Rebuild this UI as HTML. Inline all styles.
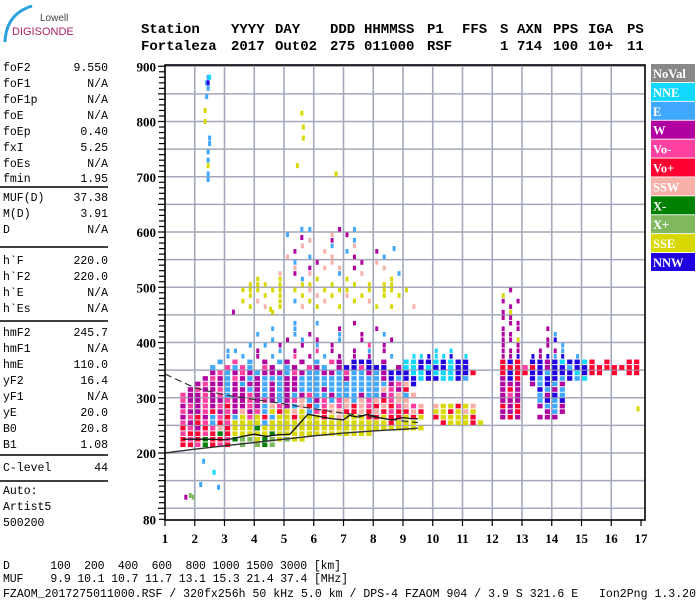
<!DOCTYPE html>
<html><head><meta charset="utf-8"><style>
body{margin:0;background:#fff;width:700px;height:600px;overflow:hidden}
svg{display:block}
.m{font-family:"Liberation Mono",monospace}
.s{font-family:"Liberation Serif",serif;font-weight:bold}
</style></head><body>
<svg id="c" width="700" height="600">
<g>
<path d="M5 42 Q6 14 32 6" stroke="#2aa0e0" stroke-width="3" fill="none"/>
<text x="40" y="21" font-family="Liberation Sans,sans-serif" font-size="10" fill="#444">Lowell</text>
<text x="12" y="35" font-family="Liberation Sans,sans-serif" font-size="11" fill="#b02060">DIGISONDE</text>
</g>
<g id="hdr" class="m" font-size="14" font-weight="bold"></g>
<g id="left" class="m" font-size="11.5"></g>
<g id="grid"></g>
<g id="marks"></g>
<g id="traces"></g>
<g id="axes"></g>
<g id="legend"></g>
<g class="m" font-size="11.5">
<text x="3" y="569" textLength="338" xml:space="preserve">D      100  200  400  600  800 1000 1500 3000 [km]</text>
<text x="3" y="582" textLength="345" xml:space="preserve">MUF    9.9 10.1 10.7 11.7 13.1 15.3 21.4 37.4 [MHz]</text>
<text x="3" y="597" textLength="693" xml:space="preserve">FZAOM_2017275011000.RSF / 320fx256h 50 kHz 5.0 km / DPS-4 FZAOM 904 / 3.9 S 321.6 E   Ion2Png 1.3.20</text>
</g>
</svg>
<script>
const NS="http://www.w3.org/2000/svg";
function mk(p,t,a){const e=document.createElementNS(NS,t);for(const k in a)e.setAttribute(k,a[k]);p.appendChild(e);return e;}
const X=f=>165+(f-1)*29.75;
const Y=h=>453-(h-200)*0.5525;

const hdrTop=[["Station",141],["YYYY",231],["DAY",275],["DDD",330],["HHMMSS",364],["P1",427],["FFS",462],["S",500],["AXN",517],["PPS",553],["IGA",588],["PS",627]];
const hdrBot=[["Fortaleza",141],["2017",231],["Out02",275],["275",330],["011000",364],["RSF",427],["1",500],["714",517],["100",553],["10+",588],["11",627]];
const H=document.getElementById('hdr');
hdrTop.forEach(d=>{const t=mk(H,'text',{x:d[1],y:33});t.textContent=d[0];

});
hdrBot.forEach(d=>{const t=mk(H,'text',{x:d[1],y:50});t.textContent=d[0];

});

const paramNames=["foF2","foF1","foF1p","foE","foEp","fxI","foEs","fmin","MUF(D)","M(D)","D","h`F","h`F2","h`E","h`Es","hmF2","hmF1","hmE","yF2","yF1","yE","B0","B1","C-level","Auto:","Artist5","500200"];
const paramVals=["9.550","N/A","N/A","N/A","0.40","5.25","N/A","1.95","37.38","3.91","N/A","220.0","220.0","N/A","N/A","245.7","N/A","110.0","16.4","N/A","20.0","20.8","1.08","44","","",""];
const paramY=[71,87,103,119,135,151,167,182,201,217,233,264,280,296,312,336,352,368,384,400,416,432,448,471,494,510,526];
const sepY=[187,247,321,455,481];
const L=document.getElementById('left');
paramNames.forEach((n,i)=>{const t=mk(L,'text',{x:3,y:paramY[i]});t.textContent=n;


if(paramVals[i]){const v=mk(L,'text',{x:108,y:paramY[i],'text-anchor':'end'});v.textContent=paramVals[i];

}});
sepY.forEach(y=>mk(L,'line',{x1:0,x2:108,y1:y,y2:y,stroke:'#000','stroke-width':1.5}));

const G=document.getElementById('grid');
for(let h=100;h<=900;h+=50){mk(G,'line',{x1:165,x2:645,y1:Y(h),y2:Y(h),stroke:'#a4a8ba','stroke-width':1.6});}
for(let f=2;f<=16;f++){mk(G,'line',{x1:X(f),x2:X(f),y1:65,y2:520,stroke:'#a4a8ba','stroke-width':1.6});}

const colors={n:'#888888',c:'#10d8ff',e:'#40a8ff',w:'#b000a0',m:'#ff40a0',r:'#ff0030',s:'#f8b0a8',g:'#008000',l:'#80b860',y:'#d8d800',b:'#2000e0'};
const rowHeights=[210,220,230,240,250,260,270,280,290,300,310,320,330,340,350,360,370,380,390,400,410,420,430,440,450,460,470,480,490,500,510,520,530,540,550,560,570,580,590,600];
const leftRows=[
"rrmgrmr.l.lgl",
"rmrgrrmgllyglylyy",
"mrrmrgryyyyygyyyyyyyyyyyyy",
"rmwrmsryyygyyyyyyyyyyyyyyyyyyyyyy",
"mwrmermyyyyeyyyyyyyyyyyyyyyyryyy",
"wmrwemreymyreyyryyyrysyyyrryrryry",
"mwwmrwmwswmeyrysyemrssrrsrsrmrrsr",
"wmwmwmrwwmwesmwesremsmsrsmrsrmsms",
"mwwmwwmwwmwmwewmsewmemsesmsrmss..",
"mwwmwmewwmwewewewmeeweeeweewmses.",
".wmwwmewwewewewweeeweeeeeeesmwr..",
"..wmwwewewwewewweeeeeeeeeeeewmsb.",
"...wmwemweweeewweeeeeeweeeewbebbc",
"....wmewmwewwwemweewwemeewewbbbcc",
"....e.meme.mw.ew.mwe.wbbmbbb.wccb",
".....e.m.e.w.ew.w.e.mw.bbb.w..ccb",
"......e.e.w.e..m.w.e.w.w.w..e..cc",
"......ee..w..e.w..m.w..w.e.w.....",
".........e.e.w..w.e.w....m.w.....",
"............e.w.e.w..e..w...w....",
"..........e....e.w...e..w..e.....",
"............e..e.....w....w......",
"...............e..e....w.........",
"",
"............y",
".........y.s.y..s.y..y....y.y..s.",
"........y.s..y.e.y.s...y.s.......",
".........y.y.y..y.s.y.s.y..y.y...",
"........yyy.yy.y.s.y.yy..y.yy.y..",
".........yyy.y..yy..y..y.y.yy....",
"..........y..y..e.y...y.....y....",
".............s.w.s...e..s....e...",
"...............s.w.s.s.w...s.....",
"...............e..w.s...w.s......",
"..............s..e..s..w...e.....",
"...............w...s..e...w......",
"................s...e..s.........",
".................s..w..e.........",
"..............e.....s.w..........",
".................e...w.e........."];
const rightRows=[
"",
"",
"",
"",
"..ryyyry",
".ryyyyr...wrw..www",
".yyrysy...wwr...wew",
".syyrys...rwr..weew",
"..........www..ebeb",
"..........wmw..ewbe",
"..........wrw..bewe",
"..........www.webew",
"bbccbe....wbr.bebbebec",
"bcccbbr...rbrrbbebbbcbrr.r.rr",
"cbbcbb....rrrmrbwbbebbrrrrrrr",
"bcbcbb....rbr.bbwbcbbcr.r..rr",
"bccb.c....wwb.bwbeb.e.",
".c.c......www..w.we...",
"..........w.w...w.e...",
"..........wwy...wb....",
"..........ww.....e....",
"..........w.w...w.....",
"...........ww",
"..........ww.",
"..........wy.",
"...........w.",
"..........w.w",
"..........y",
"...........w",
"","","","","","","","","","",""];
const ptF=[2.45,2.5,2.4,2.45,2.45,2.4,2.35,2.35,2.5,2.5,2.45,2.45,2.45,2.45,2.45,5.6,5.65,5.65,5.45,6.75,5.6,5.6,8.7,1.7,1.85,1.95,2.3,2.65,2.2,2.8,1.4,16.9,3.3,4.55];
const ptH=[880,880,870,870,860,845,820,800,770,760,745,730,720,705,695,815,790,770,720,705,605,590,570,120,123,120,185,165,143,138,216,280,455,460];
const ptC="ecebeeyyeeeeyeeyyyyyewewllecee ywy";

const M=document.getElementById('marks');
rowHeights.forEach((h,ri)=>{
  const sparse=h>=370;
  const rows=[[leftRows[ri]||"",0],[rightRows[ri]||"",33]];
  rows.forEach(([s,off])=>{
    for(let k=0;k<s.length;k++){const ch=s[k];if(!colors[ch])continue;
      const f=1.5+0.25*(k+off);
      const r=mk(M,'rect',{x:X(f)+(sparse?2:0.5),y:Y(h+10)+0.5,width:sparse?3:5.2,height:4.6,fill:colors[ch]});
      
      
    }});
});
ptF.forEach((f,i)=>{const ch=ptC[i];if(!colors[ch])return;
  const r=mk(M,'rect',{x:X(f)-1.5,y:Y(ptH[i])-2.5,width:3,height:5,fill:colors[ch]});
  
  });

const upperF=[1,2,3,4,5,6,7,8,9,9.5];
const upperH=[343,318,305,297,289,280,272,265,258,255];
const lowerF=[1,2,3,4,5,6,7,8,9,9.5];
const lowerH=[200,207,213,219,225,231,236,240,243,245];
const traceF=[1.6,2,2.5,3,3.3,3.6,4,4.4,4.8,5.2,5.5,5.8,6.2,6.6,7,7.2,7.5,7.8,8.2,8.6,9,9.3,9.5];
const traceH=[225,225,225,224,226,230,234,230,233,234,252,270,266,262,260,268,265,270,264,260,264,262,262];
const T=document.getElementById('traces');
const pl=(F,Hs)=>F.map((f,i)=>X(f)+','+Y(Hs[i])).join(' ');
let e=mk(T,'polyline',{points:pl(upperF,upperH),fill:'none',stroke:'#333','stroke-width':1.2,'stroke-dasharray':'7 4'});


e=mk(T,'polyline',{points:pl(lowerF,lowerH),fill:'none',stroke:'#333','stroke-width':1.4});


e=mk(T,'polyline',{points:pl(traceF,traceH),fill:'none',stroke:'#111','stroke-width':1.3});



const A=document.getElementById('axes');
mk(A,'rect',{x:165,y:65,width:480,height:455,fill:'none',stroke:'#000','stroke-width':1.6});
const yTicks=[900,800,700,600,500,400,300,200,80];
for(let h=80;h<=900;h+=10){const maj=h%50===0;mk(A,'line',{x1:maj?158:159,x2:165,y1:Y(h),y2:Y(h),stroke:'#000','stroke-width':1.2});}
yTicks.forEach(h=>{const t=mk(A,'text',{x:156,y:Y(h)+5,'text-anchor':'end',class:'s','font-size':13});t.textContent=h;

});
const xTicks=[1,2,3,4,5,6,7,8,9,10,11,12,13,14,15,16,17];
xTicks.forEach(f=>{mk(A,'line',{x1:X(f),x2:X(f),y1:520,y2:526,stroke:'#000','stroke-width':1.2});
const t=mk(A,'text',{x:X(f),y:543,'text-anchor':'middle',class:'s','font-size':13});t.textContent=f;

});

const legNames=["NoVal","NNE","E","W","Vo-","Vo+","SSW","X-","X+","SSE","NNW"];
const legKeys="ncewmrsglyb";
const LG=document.getElementById('legend');
legNames.forEach((n,i)=>{const y=64+i*18.9;
const r=mk(LG,'rect',{x:651,y:y,width:44,height:18,fill:colors[legKeys[i]]});


const t=mk(LG,'text',{x:653,y:y+14,fill:'#fff',class:'s','font-size':12.5});t.textContent=n;

});
</script>
</body></html>
